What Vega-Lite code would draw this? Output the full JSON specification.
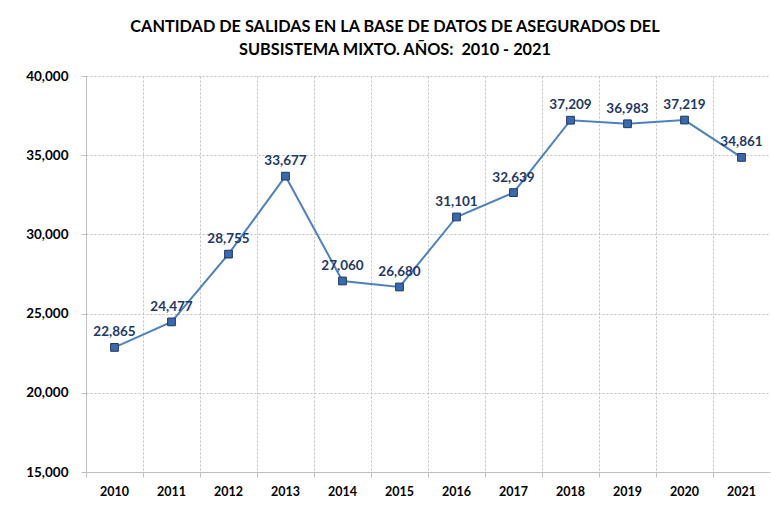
{
  "$schema": "https://vega.github.io/schema/vega-lite/v6.json",
  "width": 684,
  "height": 396,
  "autosize": {"type": "none"},
  "padding": {"left": 86, "top": 76, "right": 1, "bottom": 40},
  "background": "white",
  "title": {
    "text": ["CANTIDAD DE SALIDAS EN LA BASE DE DATOS DE ASEGURADOS DEL", "SUBSISTEMA MIXTO. AÑOS:\u00a0 2010 - 2021"],
    "font": "Lato",
    "fontSize": 16.3,
    "fontWeight": "bold",
    "color": "#000000",
    "anchor": "middle",
    "dx": -33,
    "offset": 11,
    "lineHeight": 23
  },
  "data": {
    "values": [
      {"year": "2010", "value": 22865},
      {"year": "2011", "value": 24477},
      {"year": "2012", "value": 28755},
      {"year": "2013", "value": 33677},
      {"year": "2014", "value": 27060},
      {"year": "2015", "value": 26680},
      {"year": "2016", "value": 31101},
      {"year": "2017", "value": 32639},
      {"year": "2018", "value": 37209},
      {"year": "2019", "value": 36983},
      {"year": "2020", "value": 37219},
      {"year": "2021", "value": 34861}
    ]
  },
  "encoding": {
    "x": {
      "field": "year",
      "type": "ordinal",
      "scale": {"type": "band", "paddingInner": 0, "paddingOuter": 0},
      "axis": {
        "title": null,
        "labelAngle": 0,
        "labelFont": "Lato",
        "labelFontSize": 12.5,
        "labelFontWeight": "bold",
        "labelColor": "#000000",
        "labelPadding": 8,
        "bandPosition": 0,
        "grid": true,
        "gridColor": "#BFBFBF",
        "gridDash": [2, 2],
        "gridWidth": 1,
        "domainColor": "#BFBFBF",
        "tickColor": "#BFBFBF",
        "tickSize": 5
      }
    },
    "y": {
      "field": "value",
      "type": "quantitative",
      "scale": {"domain": [15000, 40000], "nice": false, "zero": false},
      "axis": {
        "title": null,
        "values": [15000, 20000, 25000, 30000, 35000, 40000],
        "format": ",.0f",
        "labelFont": "Lato",
        "labelFontSize": 13.5,
        "labelFontWeight": "bold",
        "labelColor": "#000000",
        "labelPadding": 13,
        "grid": true,
        "gridColor": "#BFBFBF",
        "gridDash": [2, 2],
        "gridWidth": 1,
        "domain": true,
        "domainColor": "#BFBFBF",
        "tickColor": "#BFBFBF",
        "tickSize": 5
      }
    }
  },
  "layer": [
    {
      "mark": {"type": "line", "color": "#4F81BD", "strokeWidth": 2}
    },
    {
      "mark": {"type": "point", "shape": "square", "filled": true, "size": 60, "color": "#3A6AAE", "stroke": "#1F3864", "strokeWidth": 1, "opacity": 1}
    },
    {
      "mark": {"type": "text", "baseline": "bottom", "dy": -8, "font": "Lato", "fontSize": 13.5, "fontWeight": "bold", "color": "#1F3864"},
      "encoding": {"text": {"field": "value", "type": "quantitative", "format": ",.0f"}}
    }
  ],
  "config": {"view": {"stroke": null}}
}
